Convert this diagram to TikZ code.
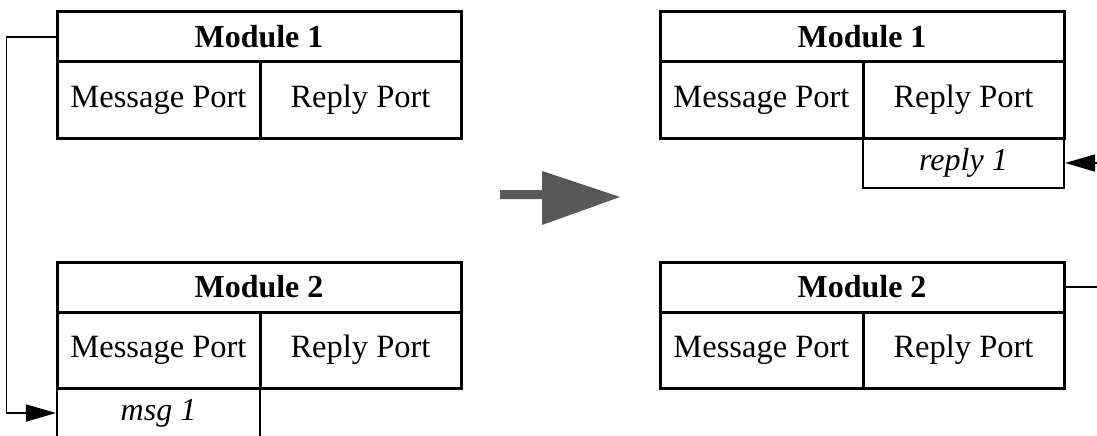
\documentclass[tikz,border=0pt]{standalone}
\usepackage{fontspec}
\setmainfont{Liberation Serif}
\usetikzlibrary{arrows.meta}

\tikzset{
  header/.style={draw, line width=3pt, minimum width=404pt, minimum height=50pt,
    inner sep=0pt, font=\fontsize{32}{38}\selectfont\bfseries},
  port/.style={draw, line width=3pt, minimum height=76pt, inner sep=0pt,
    font=\fontsize{32.5}{38}\selectfont},
  tag/.style={draw, line width=2.2pt, minimum width=201pt, minimum height=50pt,
    inner sep=0pt, font=\fontsize{32}{38}\selectfont\itshape},
  link/.style={line width=1.8pt},
}

\begin{document}
\begin{tikzpicture}[x=1pt, y=-1pt, >={Triangle[length=30pt,width=17pt]}]

\clip (0,0) rectangle (1097,436);

\node [tag, minimum width=203pt] (msg-1) at (158.5,413) {msg 1};
\node [tag] (reply-1) at (963.5,163) {reply 1};

\foreach \side/\x in {left/57,right/660}
  \foreach \m/\y in {1/12,2/262} {
    \node [header] (\side-head-\m) at (\x+202,\y+25) {Module \m};
    \node [port, minimum width=203pt] (\side-msg-\m) at (\x+101.5,\y+88) {Message Port};
    \node [port, minimum width=201pt] (\side-reply-\m) at (\x+303.5,\y+88) {Reply Port};
  }

\coordinate (edge-1) at (1097,163);
\coordinate (edge-2) at (1097,287);

\draw [link, ->] (left-head-1.west) -- ++(-49,0) |- (msg-1.west);
\draw [link, ->] (edge-1) -- (reply-1.east);
\draw [link] (right-head-2.east) -- (edge-2);

% step between the two states
\fill [black!65] (500,190) -- (542,190) -- (542,171) -- (620,197)
  -- (542,225) -- (542,199) -- (500,199) -- cycle;

\end{tikzpicture}
\end{document}
